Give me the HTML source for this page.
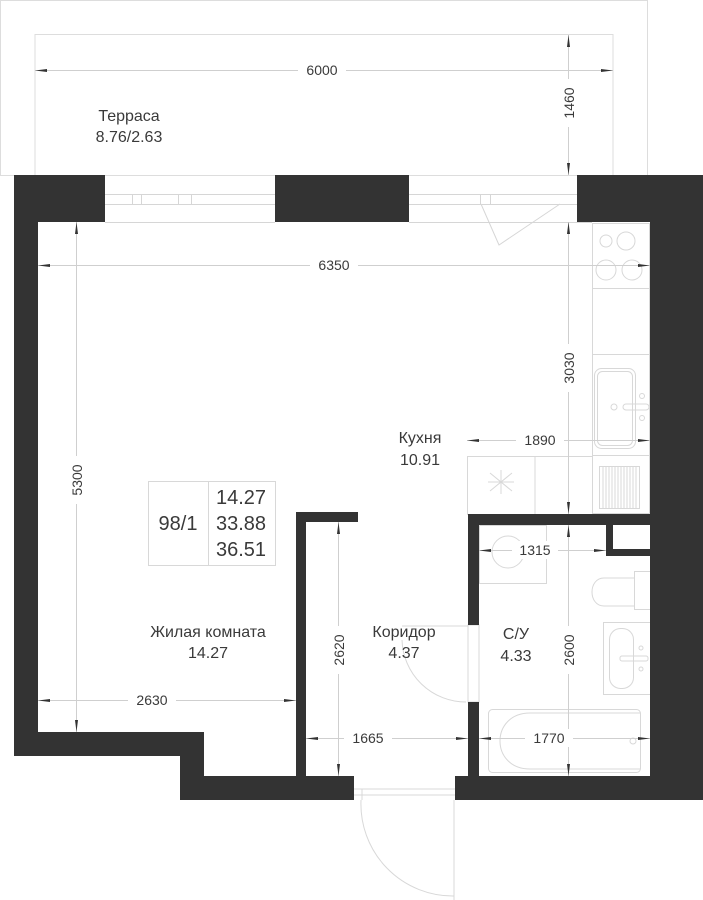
<!DOCTYPE html>
<html><head><meta charset="utf-8"><style>
html,body{margin:0;padding:0;background:#fff;width:703px;height:900px;overflow:hidden}
svg{display:block}
text{font-family:"Liberation Sans",sans-serif;fill:#3a3a3a}
</style></head><body>
<svg width="703" height="900" viewBox="0 0 703 900" xmlns="http://www.w3.org/2000/svg">
<defs>
<marker id="a" markerWidth="12" markerHeight="6" refX="12" refY="3" orient="auto-start-reverse" markerUnits="userSpaceOnUse"><path d="M0,1.5 L12,3 L0,4.5 Z" fill="#333"/></marker>
</defs>
<g fill="none" stroke="#ddd" stroke-width="1">
<rect x="0.5" y="0.5" width="647" height="175"/>
<path d="M35,175 V34.5 H613 V175"/>
</g>
<g fill="none" stroke="#d6d6d6" stroke-width="1">
<path d="M105,194.5 H275 M105,204.5 H275 M409,194.5 H577 M409,204.5 H577 M105,222.5 H275 M409,222.5 H592"/>
<rect x="132.5" y="194.5" width="9" height="10"/><rect x="178.5" y="194.5" width="13" height="10"/>
<rect x="358.5" y="194.5" width="12" height="10"/>
<rect x="480.5" y="194.5" width="10" height="10"/>
<path d="M481,204 L499,245 L560,204"/>
</g>
<g fill="none" stroke="#d8d8d8" stroke-width="1">
<rect x="592.5" y="223.5" width="57" height="290"/>
<path d="M592,288.5 H650 M592,354.5 H650 M592,455.5 H650"/>
<circle cx="606" cy="241" r="6"/><circle cx="626" cy="241" r="9"/>
<circle cx="606" cy="270" r="10"/><circle cx="632" cy="270" r="10"/>
<rect x="594.5" y="368.5" width="41" height="80" rx="7"/><rect x="597.5" y="371.5" width="35" height="74" rx="5"/>
<rect x="623" y="404" width="26" height="6" rx="3"/><circle cx="614" cy="407" r="3"/><circle cx="642" cy="396" r="2.5"/><circle cx="642" cy="418" r="2.5"/>
<rect x="599.5" y="466.5" width="40" height="42"/>
<path d="M603,467 V508 M606,467 V508 M609,467 V508 M612,467 V508 M615,467 V508 M618,467 V508 M621,467 V508 M624,467 V508 M627,467 V508 M630,467 V508 M633,467 V508 M636,467 V508"/>
<rect x="467.5" y="456.5" width="125" height="58"/><path d="M535,456 V514"/>
<path d="M490,473 L512,491 M512,473 L490,491 M501,470 V494 M488,482 H514"/>
<rect x="479.5" y="525.5" width="67" height="58"/><circle cx="508" cy="552" r="16"/>
<rect x="634.5" y="571.5" width="16" height="38"/>
<path d="M634,578 H604 C588,578 588,606 604,606 H634"/>
<rect x="603.5" y="622.5" width="47" height="72"/><rect x="609.5" y="628.5" width="24" height="60" rx="11"/>
<rect x="620" y="656" width="28" height="5" rx="2"/><circle cx="641" cy="648" r="2"/><circle cx="641" cy="669" r="2"/>
<rect x="488.5" y="709.5" width="152" height="63" rx="4"/>
<path d="M640,713 H530 C490,713 490,769 530,769 H640"/><circle cx="633" cy="741" r="3"/>
<path d="M468,625 H479 V702 H468 Z M402,626 H468"/>
<path d="M466,702 A64,64 0 0 1 402,640"/>
<path d="M354,789 H455 M354,795 H455 M362,789 V800 M454,800 V900"/>
<path d="M361,800 A92,92 0 0 0 454,896"/>
<rect x="148.5" y="481.5" width="127" height="84"/><path d="M208.5,481 V566"/>
</g>
<g fill="#333">
<path d="M14,175 H105 V222 H38 V732 H204 V776 H296 V512 H358 V522 H306 V776 H354 V800 H180 V756 H14 Z"/>
<rect x="275" y="175" width="134" height="47"/>
<path d="M577,175 H703 V800 H455 V776 H650 V222 H577 Z"/>
<path d="M468,514 H650 V525 H479 V625 H468 Z"/>
<rect x="468" y="702" width="11" height="74"/>
<path d="M606,525 H613 V549 H650 V556 H606 Z"/>
</g>
<g stroke="#cfcfcf" stroke-width="1" fill="none" marker-start="url(#a)" marker-end="url(#a)">
<path d="M35,70.5 H613"/>
<path d="M568.5,35 V175"/>
<path d="M38,265.5 H650"/>
<path d="M76.5,222 V732"/>
<path d="M568.5,222 V514"/>
<path d="M467,440.5 H650"/>
<path d="M38,700.5 H296"/>
<path d="M338.5,522 V776"/>
<path d="M306,738.5 H468"/>
<path d="M479,550.5 H606"/>
<path d="M568.5,525 V776"/>
<path d="M479,738.5 H650"/>
</g>
<g font-size="14" text-anchor="middle">
<rect x="298" y="61" width="48" height="18" fill="#fff"/><text x="322" y="75">6000</text>
<rect x="310" y="256" width="48" height="18" fill="#fff"/><text x="334" y="270">6350</text>
<rect x="516" y="431" width="48" height="18" fill="#fff"/><text x="540" y="445">1890</text>
<rect x="128" y="691" width="48" height="18" fill="#fff"/><text x="152" y="705">2630</text>
<rect x="344" y="729" width="48" height="18" fill="#fff"/><text x="368" y="743">1665</text>
<rect x="525" y="729" width="48" height="18" fill="#fff"/><text x="549" y="743">1770</text>
<rect x="512" y="541" width="46" height="18" fill="#fff"/><text x="535" y="555">1315</text>
<g transform="translate(574,103) rotate(-90)"><rect x="-24" y="-12" width="48" height="16" fill="#fff"/><text x="0" y="0">1460</text></g>
<g transform="translate(574,368) rotate(-90)"><rect x="-24" y="-12" width="48" height="16" fill="#fff"/><text x="0" y="0">3030</text></g>
<g transform="translate(82,480) rotate(-90)"><rect x="-24" y="-12" width="48" height="16" fill="#fff"/><text x="0" y="0">5300</text></g>
<g transform="translate(344,650) rotate(-90)"><rect x="-24" y="-12" width="48" height="16" fill="#fff"/><text x="0" y="0">2620</text></g>
<g transform="translate(574,650) rotate(-90)"><rect x="-24" y="-12" width="48" height="16" fill="#fff"/><text x="0" y="0">2600</text></g>
</g>
<g font-size="16" text-anchor="middle">
<text x="129" y="121">Терраса</text><text x="129" y="142">8.76/2.63</text>
<text x="420" y="443">Кухня</text><text x="420" y="465">10.91</text>
<text x="208" y="637">Жилая комната</text><text x="208" y="658">14.27</text>
<text x="404" y="637">Коридор</text><text x="404" y="658">4.37</text>
<text x="516" y="639">С/У</text><text x="516" y="661">4.33</text>
</g>
<g font-size="20" text-anchor="middle">
<text x="178" y="530">98/1</text>
<text x="241" y="504">14.27</text><text x="241" y="530">33.88</text><text x="241" y="556">36.51</text>
</g>
</svg>
</body></html>
